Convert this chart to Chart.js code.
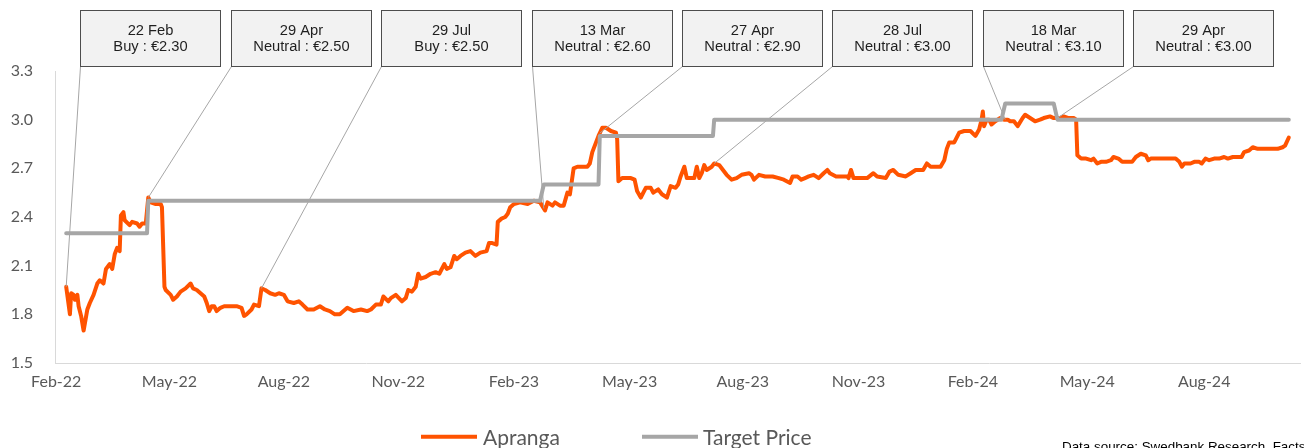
<!DOCTYPE html>
<html><head><meta charset="utf-8">
<script src="https://cdn.jsdelivr.net/npm/chart.js@4.4.1/dist/chart.umd.min.js"></script>
<style>html,body{margin:0;padding:0;background:#fff;}#wrap{width:1304px;height:448px;position:relative;}</style>
</head><body><div id="wrap"><canvas id="c"></canvas></div>
<script>
const seriesNames = ['Apranga', 'Target Price'];
const apDates = ['2022-02-22','2022-02-25','2022-02-26','2022-02-28','2022-03-01','2022-03-03','2022-03-04','2022-03-06','2022-03-08','2022-03-11','2022-03-13','2022-03-16','2022-03-19','2022-03-21','2022-03-24','2022-03-26','2022-03-29','2022-03-31','2022-04-02','2022-04-04','2022-04-06','2022-04-07','2022-04-09','2022-04-10','2022-04-14','2022-04-16','2022-04-20','2022-04-22','2022-04-24','2022-04-27','2022-04-29','2022-05-01','2022-05-05','2022-05-09','2022-05-10','2022-05-12','2022-05-13','2022-05-17','2022-05-19','2022-05-22','2022-05-25','2022-05-29','2022-06-02','2022-06-04','2022-06-07','2022-06-10','2022-06-13','2022-06-15','2022-06-17','2022-06-19','2022-06-21','2022-06-23','2022-06-26','2022-06-29','2022-07-04','2022-07-09','2022-07-13','2022-07-15','2022-07-17','2022-07-21','2022-07-23','2022-07-27','2022-07-29','2022-08-01','2022-08-05','2022-08-09','2022-08-12','2022-08-16','2022-08-19','2022-08-24','2022-08-28','2022-08-31','2022-09-04','2022-09-09','2022-09-14','2022-09-18','2022-09-22','2022-09-26','2022-09-30','2022-10-03','2022-10-06','2022-10-11','2022-10-17','2022-10-22','2022-10-25','2022-10-29','2022-11-02','2022-11-04','2022-11-08','2022-11-10','2022-11-14','2022-11-19','2022-11-22','2022-11-24','2022-11-27','2022-11-30','2022-12-02','2022-12-04','2022-12-08','2022-12-12','2022-12-16','2022-12-19','2022-12-23','2022-12-25','2022-12-28','2022-12-31','2023-01-02','2023-01-05','2023-01-09','2023-01-13','2023-01-17','2023-01-21','2023-01-26','2023-01-28','2023-01-30','2023-02-03','2023-02-04','2023-02-07','2023-02-10','2023-02-12','2023-02-14','2023-02-17','2023-02-22','2023-02-28','2023-03-05','2023-03-10','2023-03-14','2023-03-16','2023-03-20','2023-03-22','2023-03-26','2023-03-29','2023-04-01','2023-04-03','2023-04-06','2023-04-09','2023-04-17','2023-04-19','2023-04-21','2023-04-24','2023-04-26','2023-04-29','2023-05-02','2023-05-06','2023-05-10','2023-05-11','2023-05-12','2023-05-15','2023-05-22','2023-05-25','2023-05-27','2023-05-30','2023-06-03','2023-06-07','2023-06-09','2023-06-13','2023-06-16','2023-06-20','2023-06-23','2023-06-27','2023-06-29','2023-07-01','2023-07-04','2023-07-06','2023-07-12','2023-07-14','2023-07-16','2023-07-18','2023-07-20','2023-07-22','2023-07-26','2023-07-28','2023-08-01','2023-08-03','2023-08-07','2023-08-11','2023-08-15','2023-08-19','2023-08-25','2023-08-27','2023-08-29','2023-09-02','2023-09-07','2023-09-13','2023-09-18','2023-09-22','2023-09-27','2023-09-29','2023-10-03','2023-10-06','2023-10-09','2023-10-12','2023-10-16','2023-10-20','2023-10-24','2023-10-27','2023-10-29','2023-11-03','2023-11-08','2023-11-12','2023-11-13','2023-11-15','2023-11-17','2023-11-23','2023-11-28','2023-12-03','2023-12-06','2023-12-13','2023-12-16','2023-12-19','2023-12-23','2023-12-29','2024-01-02','2024-01-06','2024-01-12','2024-01-15','2024-01-18','2024-01-26','2024-01-29','2024-01-31','2024-02-02','2024-02-06','2024-02-10','2024-02-14','2024-02-19','2024-02-23','2024-02-26','2024-02-28','2024-02-29','2024-03-01','2024-03-03','2024-03-05','2024-03-07','2024-03-10','2024-03-14','2024-03-17','2024-03-20','2024-03-22','2024-03-25','2024-03-28','2024-04-01','2024-04-03','2024-04-07','2024-04-11','2024-04-15','2024-04-18','2024-04-23','2024-04-26','2024-05-01','2024-05-04','2024-05-08','2024-05-12','2024-05-14','2024-05-15','2024-05-18','2024-05-22','2024-05-26','2024-05-28','2024-05-31','2024-06-03','2024-06-07','2024-06-11','2024-06-13','2024-06-17','2024-06-20','2024-06-24','2024-06-28','2024-07-01','2024-07-05','2024-07-09','2024-07-11','2024-07-13','2024-07-21','2024-07-29','2024-08-02','2024-08-05','2024-08-07','2024-08-09','2024-08-14','2024-08-17','2024-08-21','2024-08-23','2024-08-26','2024-08-29','2024-09-02','2024-09-06','2024-09-10','2024-09-13','2024-09-17','2024-09-21','2024-09-24','2024-09-26','2024-09-30','2024-10-03','2024-10-07','2024-10-11','2024-10-13','2024-10-17','2024-10-23','2024-10-27','2024-10-29','2024-11-01'];
const apValues = [1.97,1.80,1.93,1.92,1.89,1.92,1.85,1.79,1.70,1.83,1.87,1.92,1.99,2.01,1.99,2.08,2.11,2.08,2.17,2.21,2.19,2.41,2.43,2.38,2.35,2.37,2.36,2.34,2.36,2.36,2.52,2.49,2.48,2.48,2.46,1.97,1.95,1.92,1.89,1.91,1.94,1.96,1.99,1.96,1.95,1.93,1.91,1.87,1.82,1.85,1.85,1.82,1.84,1.85,1.85,1.85,1.84,1.79,1.80,1.83,1.86,1.85,1.96,1.95,1.93,1.92,1.93,1.92,1.88,1.87,1.88,1.86,1.83,1.83,1.85,1.83,1.82,1.80,1.80,1.82,1.84,1.82,1.83,1.82,1.83,1.86,1.86,1.91,1.88,1.90,1.92,1.88,1.90,1.95,1.94,1.97,2.05,2.02,2.03,2.05,2.06,2.05,2.11,2.08,2.09,2.16,2.14,2.16,2.18,2.19,2.16,2.18,2.19,2.24,2.24,2.23,2.37,2.39,2.40,2.42,2.46,2.48,2.49,2.48,2.50,2.49,2.44,2.49,2.47,2.49,2.47,2.47,2.55,2.54,2.70,2.71,2.71,2.73,2.80,2.86,2.90,2.95,2.95,2.93,2.92,2.88,2.62,2.64,2.64,2.63,2.56,2.52,2.58,2.58,2.55,2.57,2.54,2.52,2.59,2.58,2.60,2.65,2.71,2.64,2.64,2.71,2.64,2.67,2.72,2.69,2.71,2.73,2.72,2.70,2.66,2.63,2.64,2.66,2.67,2.66,2.63,2.66,2.65,2.65,2.64,2.63,2.61,2.65,2.65,2.63,2.64,2.65,2.66,2.64,2.67,2.69,2.67,2.65,2.65,2.65,2.64,2.69,2.64,2.64,2.64,2.67,2.65,2.64,2.68,2.69,2.66,2.65,2.67,2.69,2.69,2.73,2.71,2.71,2.75,2.82,2.86,2.86,2.92,2.93,2.93,2.90,2.94,3.00,3.05,2.96,3.00,3.00,2.97,2.99,3.01,3.00,3.00,2.99,2.99,2.96,3.01,3.03,3.01,2.99,3.00,3.01,3.02,3.01,3.01,3.02,3.01,3.01,3.00,2.78,2.76,2.76,2.75,2.76,2.73,2.74,2.74,2.75,2.77,2.76,2.74,2.74,2.74,2.77,2.79,2.78,2.75,2.76,2.76,2.76,2.76,2.74,2.71,2.73,2.73,2.74,2.74,2.73,2.76,2.75,2.76,2.76,2.77,2.76,2.77,2.77,2.77,2.80,2.81,2.83,2.82,2.82,2.82,2.82,2.82,2.83,2.84,2.89];
const tpDates = ['2022-02-22','2022-04-29','2023-03-13','2023-04-27','2023-07-28','2024-03-18','2024-04-29'];
const tpValues = [2.30, 2.50, 2.60, 2.90, 3.00, 3.10, 3.00];
const tpEndDate = '2024-11-01';
const ratingDates = ['2022-02-22','2022-04-29','2022-07-29','2023-03-13','2023-04-27','2023-07-28','2024-03-18','2024-04-29'];
const ratingTitles = ['22 Feb','29 Apr','29 Jul','13 Mar','27 Apr','28 Jul','18 Mar','29 Apr'];
const ratingTexts = ['Buy : €2.30','Neutral : €2.50','Buy : €2.50','Neutral : €2.60','Neutral : €2.90','Neutral : €3.00','Neutral : €3.10','Neutral : €3.00'];
const tickDates = ['2022-02-14','2022-05-16','2022-08-16','2022-11-16','2023-02-17','2023-05-21','2023-08-20','2023-11-21','2024-02-21','2024-05-23','2024-08-25'];
const tickLabels = ['Feb-22','May-22','Aug-22','Nov-22','Feb-23','May-23','Aug-23','Nov-23','Feb-24','May-24','Aug-24'];
const yTickValues = [1.5, 1.8, 2.1, 2.4, 2.7, 3.0, 3.3];
const axisStart = '2022-02-13';
const axisEnd = '2024-11-10';
const sourceText = 'Data source: Swedbank Research, Factset';

const ORANGE = '#ff5300';
const GREY = '#a6a6a6';

function dayNum(s){ const p = s.split('-').map(Number); return (Date.UTC(p[0],p[1]-1,p[2]) - Date.UTC(2022,1,1)) / 86400000; }
function prevTradingDay(n){
  const dow = new Date(Date.UTC(2022,1,1) + n*86400000).getUTCDay();
  return n - (dow === 1 ? 3 : (dow === 0 ? 2 : 1));
}
const apData = apDates.map((d,i) => ({x: dayNum(d), y: apValues[i]}));
const tpData = [];
tpDates.forEach((d,i) => {
  tpData.push({x: dayNum(d), y: tpValues[i]});
  const e = i < tpDates.length-1 ? prevTradingDay(dayNum(tpDates[i+1])) : dayNum(tpEndDate);
  tpData.push({x: e, y: tpValues[i]});
});
function priceAt(n){
  for (let i = 1; i < apData.length; i++){
    if (apData[i].x >= n){ const a = apData[i-1], b = apData[i]; return a.y + (b.y-a.y)*(n-a.x)/(b.x-a.x); }
  }
  return apData[apData.length-1].y;
}

const BOX_X0 = 80.7, BOX_STEP = 150.45, BOX_W = 140, BOX_TOP = 10.5, BOX_H = 56;

const overlay = {
  id: 'overlay',
  afterDatasetsDraw(chart){
    const ctx = chart.ctx, xs = chart.scales.x, ys = chart.scales.y;
    ctx.save();
    ctx.strokeStyle = '#a6a6a6'; ctx.lineWidth = 1;
    ratingDates.forEach((d,i) => {
      const bx = Math.floor(BOX_X0 + i*BOX_STEP) + 0.5;
      const n = dayNum(d);
      ctx.beginPath();
      ctx.moveTo(bx, BOX_TOP + BOX_H);
      ctx.lineTo(xs.getPixelForValue(n), ys.getPixelForValue(priceAt(n)));
      ctx.stroke();
    });
    ratingDates.forEach((d,i) => {
      const bx = Math.floor(BOX_X0 + i*BOX_STEP) + 0.5;
      ctx.fillStyle = '#f2f2f2';
      ctx.fillRect(bx, BOX_TOP, BOX_W, BOX_H);
      ctx.strokeStyle = '#4d4d4d'; ctx.lineWidth = 1;
      ctx.strokeRect(bx, BOX_TOP, BOX_W, BOX_H);
      ctx.fillStyle = '#1f1f1f';
      ctx.font = '14.7px "Liberation Sans", Arial, sans-serif';
      ctx.textAlign = 'center'; ctx.textBaseline = 'alphabetic';
      ctx.fillText(ratingTitles[i], bx + BOX_W/2, 34.5);
      ctx.fillText(ratingTexts[i], bx + BOX_W/2, 51);
    });
    ctx.restore();
  },
  afterDraw(chart){
    const ctx = chart.ctx;
    ctx.save();
    const items = [{x: 421, tx: 483, ds: chart.data.datasets[1]}, {x: 642, tx: 703, ds: chart.data.datasets[0]}];
    items.forEach(it => {
      ctx.strokeStyle = it.ds.borderColor; ctx.lineWidth = 4; ctx.lineCap = 'butt';
      ctx.beginPath(); ctx.moveTo(it.x, 436.7); ctx.lineTo(it.x + 56, 436.7); ctx.stroke();
      ctx.fillStyle = '#595959';
      ctx.font = '21px Lato, sans-serif';
      ctx.textAlign = 'left'; ctx.textBaseline = 'alphabetic';
      ctx.fillText(it.ds.label, it.tx, 444.5);
    });
    ctx.fillStyle = '#000';
    ctx.font = '13.4px "Liberation Sans", Arial, sans-serif';
    ctx.textAlign = 'left'; ctx.textBaseline = 'alphabetic';
    ctx.fillText(sourceText, 1062, 450.5);
    ctx.restore();
  }
};

Chart.defaults.font.family = 'Lato, sans-serif';
new Chart(document.getElementById('c'), {
  type: 'line',
  data: {
    datasets: [
      {label: seriesNames[1], data: tpData, borderColor: GREY, backgroundColor: GREY, borderWidth: 4, pointRadius: 0, tension: 0, order: 0, borderJoinStyle: 'round', borderCapStyle: 'round'},
      {label: seriesNames[0], data: apData, borderColor: ORANGE, backgroundColor: ORANGE, borderWidth: 4, pointRadius: 0, tension: 0, order: 1, borderJoinStyle: 'round', borderCapStyle: 'round'}
    ]
  },
  options: {
    responsive: true, maintainAspectRatio: false, animation: false,
    layout: {padding: {left: 0, right: 4, top: 71, bottom: 0}},
    plugins: {legend: {display: false}, tooltip: {enabled: false}},
    scales: {
      x: {
        type: 'linear', min: dayNum(axisStart), max: dayNum(axisEnd),
        grid: {display: false, drawTicks: false},
        border: {display: true, color: '#d9d9d9', width: 1},
        afterBuildTicks(s){ s.ticks = tickDates.map(d => ({value: dayNum(d)})); },
        afterFit(s){ s.height = 85; },
        ticks: {autoSkip: false, maxRotation: 0, minRotation: 0, padding: 9, color: '#595959', font: {size: 16},
          callback(v, i){ return tickLabels[i]; }}
      },
      y: {
        min: 1.5, max: 3.3,
        grid: {display: false, drawTicks: false},
        border: {display: true, color: '#d9d9d9', width: 1},
        afterBuildTicks(s){ s.ticks = yTickValues.map(v => ({value: v})); },
        afterFit(s){ s.width = 55; },
        ticks: {padding: 22, color: '#595959', font: {size: 16}, callback(v){ return Number(v).toFixed(1); }}
      }
    }
  },
  plugins: [overlay]
});
</script>
</body></html>
